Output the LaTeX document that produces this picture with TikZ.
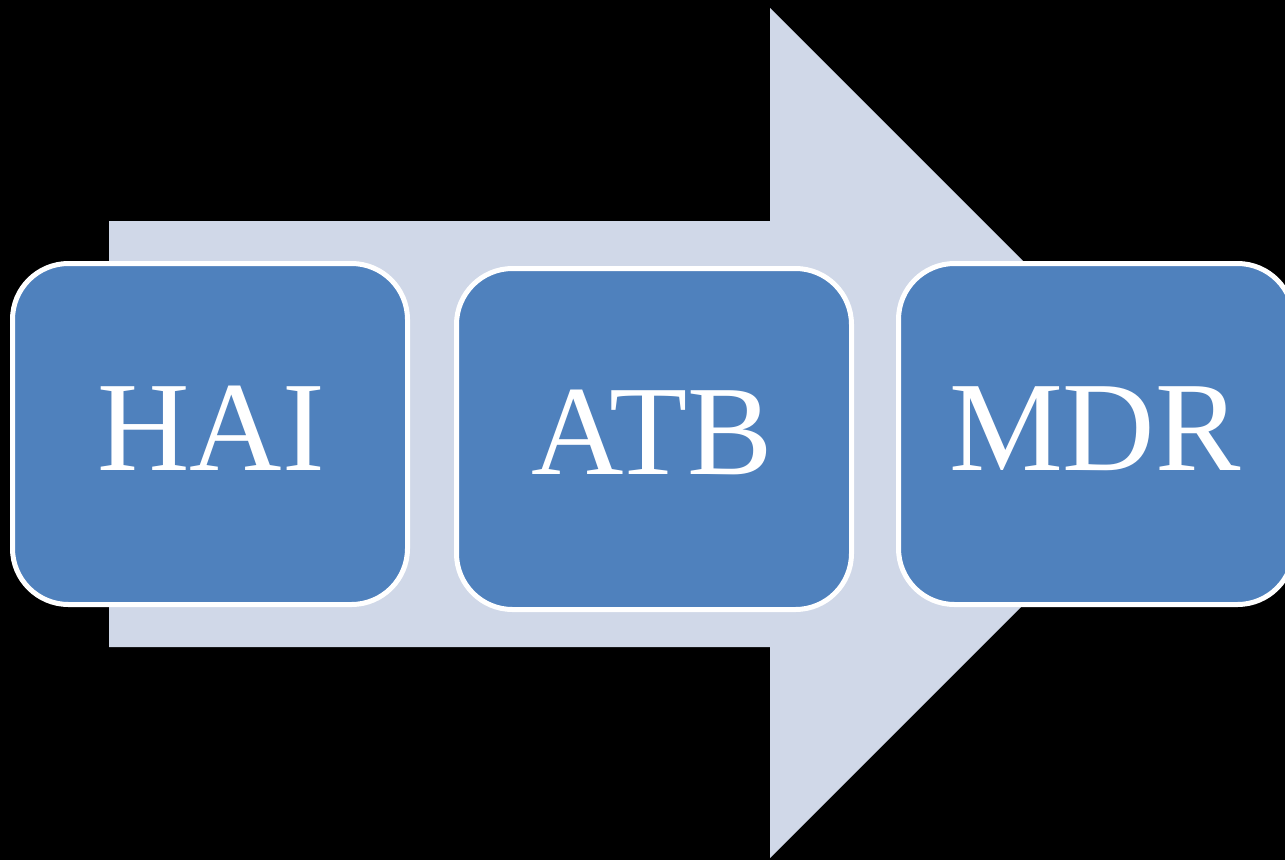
\documentclass[tikz,border=0pt]{standalone}
\usepackage{fontspec}
\setmainfont{Liberation Serif}
\definecolor{arrowfill}{HTML}{D0D8E8}
\definecolor{boxfill}{HTML}{4F81BD}
\tikzset{
  stagebox/.style={draw=white, line width=5pt, fill=boxfill, rounded corners=56pt,
    minimum width=395pt, minimum height=341pt, inner sep=0pt},
  stagelabel/.style={text=white, font=\fontsize{128}{130}\selectfont, inner sep=0pt, anchor=base},
  bigarrow/.style={fill=arrowfill, draw=none}
}
\begin{document}
\begin{tikzpicture}[x=1pt,y=-1pt]
\fill[black] (0,0) rectangle (1285,860);
\useasboundingbox (0,0) rectangle (1285,860);
\fill[bigarrow] (109,221) -- (770,221) -- (770,8) -- (1195,433) -- (770,858) -- (770,647) -- (109,647) -- cycle;
\node[stagebox] (b1) at (210,434) {};
\node[stagebox] (b2) at (654,439) {};
\node[stagebox] (b3) at (1096,434) {};
\node[stagelabel] (t1) at (211,470) {HAI};
\node[stagelabel] (t2) at (652,474) {ATB};
\node[stagelabel] (t3) at (1095,470) {MDR};
\end{tikzpicture}
\end{document}
